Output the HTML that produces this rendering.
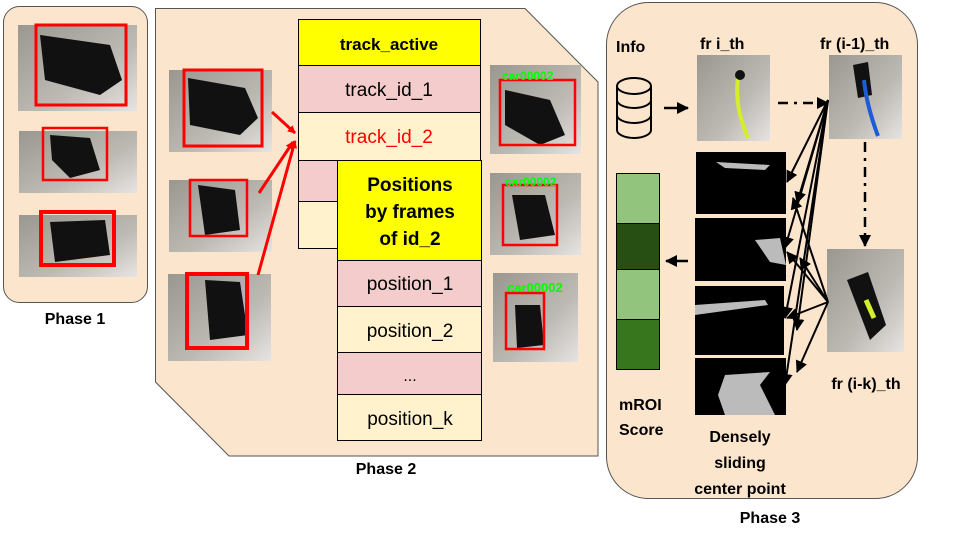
<!DOCTYPE html>
<html><head><meta charset="utf-8"><style>
body{margin:0;width:960px;height:540px;background:#fff;overflow:hidden}
svg{display:block}
text{font-family:"Liberation Sans",Arial,sans-serif}
.b{font-weight:bold}
</style></head><body>
<svg width="960" height="540" viewBox="0 0 960 540" xmlns="http://www.w3.org/2000/svg">
<defs>
<linearGradient id="ph" x1="0" y1="0" x2="1" y2="1"><stop offset="0" stop-color="#9a9690"/><stop offset="0.6" stop-color="#bdb9b3"/><stop offset="1" stop-color="#e6e4e2"/></linearGradient>
<marker id="ra" markerWidth="8" markerHeight="8" refX="7" refY="4" orient="auto" markerUnits="userSpaceOnUse"><path d="M0,0 L8,4 L0,8z" fill="#f00"/></marker>
<marker id="ka" markerWidth="12" markerHeight="12" refX="11" refY="6" orient="auto" markerUnits="userSpaceOnUse"><path d="M0,0 L12,6 L0,12z" fill="#000"/></marker>
</defs>
<!-- Phase 1 -->
<rect x="3.5" y="6.5" width="144" height="296" rx="16" fill="#fce5cd" stroke="#555"/>
<g>
<rect x="18" y="25" width="119" height="86" fill="url(#ph)"/><path d="M40,35 L110,45 L122,80 L100,95 L45,80z" fill="#111"/><rect x="36" y="25" width="90" height="80" fill="none" stroke="#f00" stroke-width="3"/>
<rect x="19" y="131" width="118" height="62" fill="url(#ph)"/><path d="M50,135 L90,138 L100,170 L70,178 L52,160z" fill="#111"/><rect x="43" y="128" width="64" height="52" fill="none" stroke="#f00" stroke-width="2.5"/>
<rect x="19" y="215" width="118" height="62" fill="url(#ph)"/><path d="M50,222 L105,220 L110,255 L55,262z" fill="#111"/><rect x="41" y="212" width="73" height="53" fill="none" stroke="#f00" stroke-width="4"/>
</g>
<text x="75" y="324" text-anchor="middle" class="b" font-size="16">Phase 1</text>
<!-- Phase 2 -->
<polygon points="155.5,8.5 525,8.5 598,82 598,456 229,456 155.5,382" fill="#fce5cd" stroke="#555"/>
<g>
<rect x="169" y="70" width="103" height="82" fill="url(#ph)"/><path d="M188,78 L245,88 L258,118 L240,135 L190,125z" fill="#111"/><rect x="184" y="70" width="78" height="76" fill="none" stroke="#f00" stroke-width="3"/>
<rect x="169" y="180" width="103" height="72" fill="url(#ph)"/><path d="M198,185 L235,190 L240,230 L205,235z" fill="#111"/><rect x="190" y="180" width="57" height="56" fill="none" stroke="#f00" stroke-width="2.5"/>
<rect x="168" y="274" width="103" height="87" fill="url(#ph)"/><path d="M205,280 L240,282 L248,335 L210,340z" fill="#111"/><rect x="187" y="274" width="60" height="74" fill="none" stroke="#f00" stroke-width="4"/>
<rect x="490" y="65" width="91" height="89" fill="url(#ph)"/><path d="M505,90 L550,100 L565,135 L540,145 L505,125z" fill="#111"/><rect x="500" y="80" width="75" height="65" fill="none" stroke="#f00" stroke-width="2.5"/><text x="502" y="80" fill="#0f0" font-size="12" class="b">car00002</text>
<rect x="490" y="173" width="91" height="82" fill="url(#ph)"/><path d="M512,195 L545,195 L555,235 L520,240z" fill="#111"/><rect x="503" y="185" width="54" height="60" fill="none" stroke="#f00" stroke-width="2.5"/><text x="505" y="186" fill="#0f0" font-size="12" class="b">car00002</text>
<rect x="493" y="273" width="85" height="89" fill="url(#ph)"/><path d="M515,305 L540,305 L544,345 L517,348z" fill="#111"/><rect x="506" y="293" width="38" height="56" fill="none" stroke="#f00" stroke-width="2.5"/><text x="507" y="292" fill="#0f0" font-size="13" class="b">car00002</text>
</g>
<!-- table 1 -->
<g stroke="#000" stroke-width="1">
<rect x="298.5" y="19.5" width="182" height="46" fill="#ffff00"/>
<rect x="298.5" y="65.5" width="182" height="47" fill="#f4cccc"/>
<rect x="298.5" y="112.5" width="182" height="48" fill="#fff2cc"/>
<rect x="298.5" y="160.5" width="182" height="41" fill="#f4cccc"/>
<rect x="298.5" y="201.5" width="182" height="47" fill="#fff2cc"/>
<rect x="337.5" y="160.5" width="144" height="100" fill="#ffff00"/>
<rect x="337.5" y="260.5" width="144" height="46" fill="#f4cccc"/>
<rect x="337.5" y="306.5" width="144" height="46" fill="#fff2cc"/>
<rect x="337.5" y="352.5" width="144" height="42" fill="#f4cccc"/>
<rect x="337.5" y="394.5" width="144" height="46" fill="#fff2cc"/>
</g>
<text x="389" y="50" text-anchor="middle" class="b" font-size="17">track_active</text>
<text x="389" y="96" text-anchor="middle" font-size="19">track_id_1</text>
<text x="389" y="143" text-anchor="middle" font-size="19" fill="#f00">track_id_2</text>
<text x="410" y="191" text-anchor="middle" class="b" font-size="19">Positions</text>
<text x="410" y="218" text-anchor="middle" class="b" font-size="19">by frames</text>
<text x="410" y="245" text-anchor="middle" class="b" font-size="19">of id_2</text>
<text x="410" y="290" text-anchor="middle" font-size="19">position_1</text>
<text x="410" y="337" text-anchor="middle" font-size="19">position_2</text>
<text x="410" y="381" text-anchor="middle" font-size="16">...</text>
<text x="410" y="425" text-anchor="middle" font-size="19">position_k</text>
<g stroke="#f00" stroke-width="3" marker-end="url(#ra)">
<line x1="272" y1="112" x2="295" y2="133"/>
<line x1="259" y1="193" x2="293" y2="142"/>
<line x1="258" y1="275" x2="295" y2="141"/>
</g>
<text x="386" y="474" text-anchor="middle" class="b" font-size="16">Phase 2</text>
<!-- Phase 3 -->
<rect x="606.5" y="2.5" width="311" height="496" rx="42" fill="#fce5cd" stroke="#555"/>
<text x="616" y="52" class="b" font-size="16">Info</text>
<text x="700" y="49" class="b" font-size="16">fr i_th</text>
<text x="820" y="49" class="b" font-size="16">fr (i-1)_th</text>
<g fill="none" stroke="#000" stroke-width="2">
<ellipse cx="634" cy="86" rx="17" ry="8"/>
<path d="M617,86 V130 A17,8 0 0 0 651,130 V86"/>
<path d="M617,100 A17,8 0 0 0 651,100 M617,115 A17,8 0 0 0 651,115"/>
</g>
<rect x="697" y="55" width="73" height="86" fill="url(#ph)"/><path d="M738,78 C735,100 740,120 748,138" stroke="#d4ee2a" stroke-width="4" fill="none"/><circle cx="740" cy="75" r="5" fill="#111"/>
<rect x="829" y="55" width="73" height="84" fill="url(#ph)"/><path d="M853,65 L868,62 L872,95 L858,98z" fill="#111"/><path d="M864,80 C866,100 872,120 878,136" stroke="#1e5bd6" stroke-width="4" fill="none"/>
<rect x="827" y="249" width="77" height="103" fill="url(#ph)"/><path d="M847,280 L868,272 L886,325 L870,340z" fill="#111"/><path d="M866,300 L874,318" stroke="#d4ee2a" stroke-width="5"/>
<rect x="696" y="152" width="90" height="62" fill="#000"/><path d="M716,162 L770,165 L765,170 L725,168z" fill="#bbb"/>
<rect x="695" y="218" width="91" height="63" fill="#000"/><path d="M755,240 L780,238 L786,265 L770,262z" fill="#bbb"/>
<rect x="695" y="286" width="89" height="69" fill="#000"/><path d="M695,305 L765,300 L768,305 L695,315z" fill="#bbb"/>
<rect x="695" y="358" width="91" height="57" fill="#000"/><path d="M725,375 L770,372 L760,385 L775,415 L725,415 L718,395z" fill="#bbb"/>
<g stroke="#000" stroke-width="1">
<rect x="616.5" y="173.5" width="43" height="50" fill="#93c47d"/>
<rect x="616.5" y="223.5" width="43" height="46" fill="#274e13"/>
<rect x="616.5" y="269.5" width="43" height="50" fill="#93c47d"/>
<rect x="616.5" y="319.5" width="43" height="50" fill="#38761d"/>
</g>
<g stroke="#000" stroke-width="2.5" fill="none">
<line x1="664" y1="108" x2="688" y2="108" marker-end="url(#ka)"/>
<line x1="778" y1="103" x2="828" y2="103" stroke-dasharray="10,6,3,6" marker-end="url(#ka)"/>
<line x1="865" y1="142" x2="865" y2="246" stroke-dasharray="10,6,3,6" marker-end="url(#ka)"/>
<line x1="688" y1="261" x2="666" y2="261" marker-end="url(#ka)"/>
</g>
<g stroke="#000" stroke-width="2" marker-end="url(#ka)">
<line x1="828" y1="100" x2="787" y2="182"/>
<line x1="828" y1="100" x2="785" y2="248"/>
<line x1="828" y1="100" x2="785" y2="318"/>
<line x1="828" y1="100" x2="785" y2="385"/>
<line x1="828" y1="100" x2="797" y2="203"/>
<line x1="828" y1="100" x2="797" y2="330"/>
<line x1="828" y1="302" x2="793" y2="198"/>
<line x1="828" y1="302" x2="787" y2="252"/>
<line x1="828" y1="302" x2="787" y2="318"/>
<line x1="828" y1="302" x2="797" y2="372"/>
<line x1="828" y1="302" x2="800" y2="258"/>
</g>
<text x="619" y="410" class="b" font-size="16">mROI</text>
<text x="619" y="435" class="b" font-size="16">Score</text>
<text x="740" y="442" text-anchor="middle" class="b" font-size="16">Densely</text>
<text x="740" y="468" text-anchor="middle" class="b" font-size="16">sliding</text>
<text x="740" y="494" text-anchor="middle" class="b" font-size="16">center point</text>
<text x="866" y="389" text-anchor="middle" class="b" font-size="16">fr (i-k)_th</text>
<text x="770" y="523" text-anchor="middle" class="b" font-size="16">Phase 3</text>
</svg>
</body></html>
